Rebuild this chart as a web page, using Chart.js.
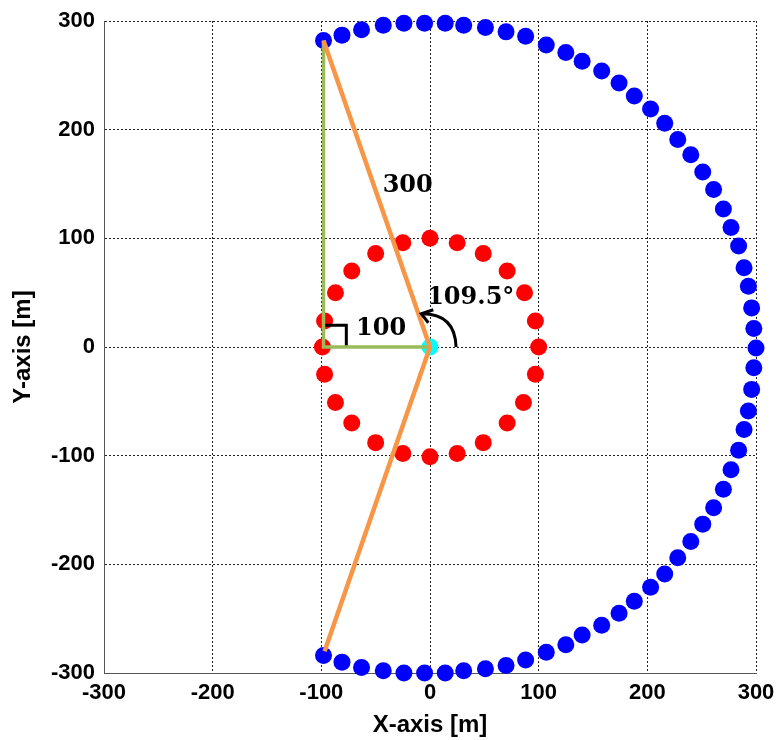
<!DOCTYPE html>
<html>
<head>
<meta charset="utf-8">
<script src="https://cdn.jsdelivr.net/npm/chart.js@4.4.0/dist/chart.umd.min.js"></script>
<style>
  html, body { margin: 0; padding: 0; background: #fff; }
</style>
</head>
<body>
<canvas id="layout-chart" width="778" height="740"></canvas>
<script>
// Outer ring, r = 300 m
const outerX = [-98, -81, -63, -43, -24, -5, 14, 31, 51, 70, 88, 107, 125, 140, 158, 174, 188, 203, 216, 228,
  240, 251, 261, 270, 277, 284, 289, 293, 296, 298, 300, 298, 296, 293, 289, 284, 277, 270, 261, 251,
  240, 228, 216, 203, 188, 174, 158, 140, 125, 107, 88, 70, 51, 31, 14, -5, -24, -43, -63, -81, -98];
const outerY = [282, 287, 292, 296, 298, 298, 298, 296, 294, 290, 286, 278, 271, 263, 254, 243, 231, 219, 206, 191,
  177, 161, 145, 127, 110, 93, 73, 56, 36, 17, -1, -19, -39, -59, -76, -95, -113, -131, -148, -163,
  -179, -194, -209, -221, -234, -245, -256, -265, -274, -281, -288, -293, -296, -298, -300, -300, -300, -298, -295, -290, -284];

// Inner ring, r = 100 m
const innerX = [0, 25, 49, 71, 87, 97, 100, 97, 86, 71, 49, 25, 0, -25, -50, -72, -87, -97, -99, -97, -87, -72, -50, -25];
const innerY = [100, 96, 86, 70, 50, 24, 0, -25, -51, -70, -88, -98, -101, -98, -88, -70, -51, -25, 0, 24, 50, 70, 86, 96];

// Centre
const hubX = [0];
const hubY = [0];

// 300 m arms from the centre to the ends of the outer ring
const armX = [-98, 0, -97];
const armY = [282, 0, -280];

// right triangle legs
const legX = [-98, -98, 0];
const legY = [282, 0, 0];

// right-angle corner mark
const cornerX = [-98, -77, -77];
const cornerY = [20, 20, 0];

const tickValues = [-300, -200, -100, 0, 100, 200, 300];
const notes = ['300', '100', '109.5°'];
const noteX = [-20.5, -45, 37.5];
const noteY = [148, 17, 45.5];

function pts(xs, ys) {
  return xs.map((x, i) => ({ x: x, y: ys[i] }));
}

function lineSet(xs, ys, color, width) {
  return {
    data: pts(xs, ys),
    showLine: true,
    borderColor: color,
    borderWidth: width,
    pointRadius: 0,
    fill: false,
    clip: false
  };
}

function dotSet(xs, ys, color) {
  return {
    data: pts(xs, ys),
    backgroundColor: color,
    borderColor: color,
    borderWidth: 0,
    pointRadius: 8.5,
    clip: false
  };
}

// angle arrow and the text notes
const extras = {
  id: 'extras',
  afterDatasetsDraw(chart) {
    const { ctx, scales: { x, y } } = chart;
    ctx.save();
    ctx.strokeStyle = '#000';
    ctx.lineWidth = 3;
    const sx = x.getPixelForValue(24), sy = y.getPixelForValue(0);
    const cx = x.getPixelForValue(23), cy = y.getPixelForValue(31);
    const ex = x.getPixelForValue(-8), ey = y.getPixelForValue(30.6);
    ctx.beginPath();
    ctx.moveTo(sx, sy);
    ctx.quadraticCurveTo(cx, cy, ex, ey);
    ctx.stroke();
    ctx.beginPath();
    ctx.moveTo(ex + 12, ey - 4);
    ctx.lineTo(ex, ey);
    ctx.lineTo(ex + 7, ey + 9);
    ctx.stroke();

    ctx.font = 'bold 24px "DejaVu Serif"';
    ctx.fillStyle = '#000';
    ctx.textAlign = 'center';
    ctx.textBaseline = 'middle';
    notes.forEach((t, i) => {
      ctx.fillText(t, x.getPixelForValue(noteX[i]), y.getPixelForValue(noteY[i]));
    });
    ctx.restore();
  }
};

function axis(title, fit) {
  return {
    type: 'linear',
    min: -300,
    max: 300,
    afterBuildTicks: s => { s.ticks = tickValues.map(v => ({ value: v })); },
    afterFit: fit,
    grid: { color: '#222', lineWidth: 1, drawTicks: false },
    border: { display: true, color: '#555', width: 1, dash: [2, 2] },
    ticks: {
      color: '#000',
      font: { family: '"Liberation Sans", Arial, sans-serif', size: 22, weight: 'bold' }
    },
    title: {
      display: true,
      text: title,
      color: '#000',
      font: { family: '"Liberation Sans", Arial, sans-serif', size: 24, weight: 'bold' }
    }
  };
}

// fixed box sizes so the plot area lands at 104..756 x 21..673
const xAxis = axis('X-axis [m]', s => {
  s.height = 67;
  s.paddingLeft = 0;
  s.paddingRight = 0;
});
xAxis.ticks.padding = 7;
xAxis.title.padding = { top: 0, bottom: 0 };

const yAxis = axis('Y-axis [m]', s => {
  s.width = 104;
  s.paddingTop = 0;
  s.paddingBottom = 0;
});
yAxis.ticks.padding = 9;
yAxis.title.padding = { top: 9, bottom: 0 };

const ctx = document.getElementById('layout-chart').getContext('2d');
const layoutChart = new Chart(ctx, {
  type: 'scatter',
  data: {
    datasets: [
      lineSet(armX, armY, '#F79646', 4.5),
      lineSet(legX, legY, '#9BBB59', 3.5),
      lineSet(cornerX, cornerY, '#000', 3),
      dotSet(hubX, hubY, '#00FFFF'),
      dotSet(innerX, innerY, '#FF0000'),
      dotSet(outerX, outerY, '#0000FF')
    ]
  },
  options: {
    responsive: false,
    animation: false,
    layout: { padding: { top: 21, right: 22, left: 0, bottom: 0 } },
    plugins: { legend: { display: false }, tooltip: { enabled: false } },
    scales: { x: xAxis, y: yAxis }
  },
  plugins: [extras]
});
</script>
</body>
</html>
